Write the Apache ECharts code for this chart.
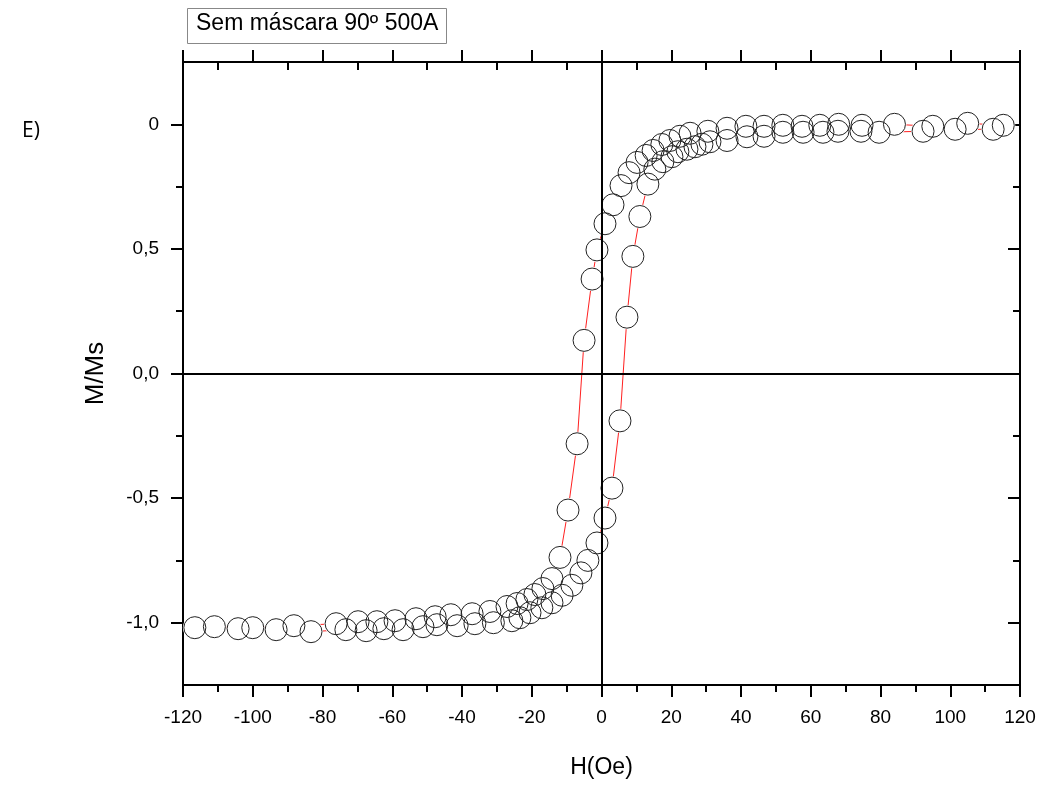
<!DOCTYPE html>
<html>
<head>
<meta charset="utf-8">
<script src="https://cdn.jsdelivr.net/npm/echarts@6/dist/echarts.min.js"></script>
<style>
html,body{margin:0;padding:0;background:#fff;}
#chart{width:1046px;height:785px;}
</style>
</head>
<body>
<div id="chart"></div>
<script>
// Descending branch (H from +120 to -120)
const descH = [115.2,105.0,95.0,84.0,74.7,68.0,62.6,57.5,52.0,46.6,41.4,36.0,30.5,25.4,22.5,19.6,17.3,14.8,12.8,10.2,7.9,5.6,3.3,1.0,-1.3,-2.7,-5.0,-7.0,-9.6,-11.9,-14.2,-16.8,-19.1,-21.4,-24.2,-27.1,-32.0,-37.1,-43.2,-47.7,-53.2,-59.2,-64.4,-69.8,-76.1,-88.2,-100.0,-111.0];
const descM = [0.996,1.004,0.992,1.0,0.996,1.0,0.996,0.992,0.996,0.992,0.992,0.984,0.972,0.964,0.952,0.935,0.919,0.895,0.875,0.847,0.806,0.754,0.677,0.601,0.496,0.379,0.133,-0.282,-0.548,-0.738,-0.823,-0.863,-0.887,-0.907,-0.923,-0.935,-0.955,-0.964,-0.968,-0.976,-0.984,-0.992,-0.996,-0.996,-1.004,-1.012,-1.02,-1.016];
// Ascending branch (H from -120 to +120)
const ascH = [-116.6,-104.2,-93.3,-83.3,-73.3,-67.5,-62.4,-56.9,-51.2,-47.2,-41.4,-36.3,-31.0,-25.7,-23.4,-20.5,-17.1,-14.2,-11.3,-8.5,-5.9,-3.9,-1.3,1.0,3.0,5.3,7.3,9.0,11.0,13.3,15.3,17.6,20.2,21.9,24.5,26.8,28.8,31.1,36.0,41.7,46.6,52.0,57.8,63.5,67.8,74.4,79.6,92.2,101.4,112.3];
const ascM = [-1.02,-1.024,-1.028,-1.036,-1.028,-1.032,-1.024,-1.028,-1.016,-1.008,-1.012,-1.004,-1.0,-0.992,-0.98,-0.96,-0.94,-0.92,-0.89,-0.85,-0.80,-0.75,-0.68,-0.58,-0.46,-0.19,0.226,0.47,0.63,0.76,0.82,0.85,0.87,0.89,0.90,0.91,0.92,0.93,0.935,0.95,0.952,0.968,0.968,0.968,0.972,0.972,0.968,0.972,0.98,0.98];
const xTicks = [-120,-100,-80,-60,-40,-20,0,20,40,60,80,100,120];
const yMajor = [-1,-0.5,0,0.5,1];
const yMinor = [-0.75,-0.25,0.25,0.75];
const yLabels = {"-1":"-1,0","-0.5":"-0,5","0":"0,0","0.5":"0,5","1":"0"};
const titleText = "Sem máscara 90º 500A";
const panelLabel = "E)";

const pts = [];
for (let i = 0; i < descH.length; i++) pts.push([descH[i], descM[i]]);
for (let i = 0; i < ascH.length; i++) pts.push([ascH[i], ascM[i]]);

const FONT = "Liberation Sans, Arial, sans-serif";
const black = "#000";
const lblStyle = {color: black, fontFamily: FONT, fontSize: 19};

const chart = echarts.init(document.getElementById('chart'), null, {renderer: 'canvas'});
const baseX = {type:'value', min:-120, max:120, interval:20, splitLine:{show:false}};
const baseY = {type:'value', min:-1.25, max:1.25, splitLine:{show:false}};

chart.setOption({
  animation: false,
  backgroundColor: '#fff',
  grid: {left:183, right:26, top:62, bottom:100, containLabel:false},
  xAxis: [
    Object.assign({}, baseX, {
      position:'bottom',
      axisLine:{show:true, onZero:false, lineStyle:{color:black, width:2}},
      axisTick:{show:true, inside:false, length:12, lineStyle:{color:black, width:2}},
      minorTick:{show:true, splitNumber:2, length:7, lineStyle:{color:black, width:2}},
      axisLabel:Object.assign({margin:23, formatter: v => xTicks.indexOf(v) >= 0 ? String(v) : ''}, lblStyle),
      name:'H(Oe)', nameLocation:'middle', nameGap:71,
      nameTextStyle:{color:black, fontFamily:FONT, fontSize:23}
    }),
    Object.assign({}, baseX, {
      position:'top',
      axisLine:{show:true, onZero:false, lineStyle:{color:black, width:2}},
      axisTick:{show:true, inside:false, length:12, lineStyle:{color:black, width:2}},
      minorTick:{show:false},
      axisLabel:{show:false}
    }),
    Object.assign({}, baseX, {
      position:'top',
      axisLine:{show:false, onZero:false},
      axisTick:{show:false, inside:true},
      minorTick:{show:true, splitNumber:2, length:8, lineStyle:{color:black, width:2}},
      axisLabel:{show:false}
    })
  ],
  yAxis: [
    Object.assign({}, baseY, {
      position:'left',
      axisLine:{show:true, onZero:false, lineStyle:{color:black, width:2}},
      axisTick:{show:true, inside:false, length:12, customValues:yMajor, lineStyle:{color:black, width:2}},
      axisLabel:Object.assign({margin:24, customValues:yMajor, formatter: v => {
        const k = String(Math.round(v*100)/100); return yLabels[k] !== undefined ? yLabels[k] : '';
      }}, lblStyle),
      name:'M/Ms', nameLocation:'middle', nameGap:74,
      nameTextStyle:{color:black, fontFamily:FONT, fontSize:26}
    }),
    Object.assign({}, baseY, {
      position:'left',
      axisLine:{show:false, onZero:false},
      axisTick:{show:true, inside:false, length:7, customValues:yMinor, lineStyle:{color:black, width:2}},
      axisLabel:{show:false}
    }),
    Object.assign({}, baseY, {
      position:'right',
      axisLine:{show:true, onZero:false, lineStyle:{color:black, width:2}},
      axisTick:{show:true, inside:true, length:12, customValues:yMajor, lineStyle:{color:black, width:2}},
      axisLabel:{show:false}
    }),
    Object.assign({}, baseY, {
      position:'right',
      axisLine:{show:false, onZero:false},
      axisTick:{show:true, inside:true, length:7, customValues:yMinor, lineStyle:{color:black, width:2}},
      axisLabel:{show:false}
    })
  ],
  graphic: [
    {type:'rect', left:187, top:8, z:10, shape:{width:259, height:35},
     style:{fill:'#fff', stroke:'#888', lineWidth:1}},
    {type:'text', left:196, top:12, z:11,
     style:{text:titleText, font:'23px "Liberation Sans", Arial, sans-serif', fill:black}},
    {type:'text', left:22, top:121, z:11,
     style:{text:panelLabel, font:'21px "Open Sans", Lato, sans-serif', fill:black}}
  ],
  series: [
    {
      type:'line', data:pts, xAxisIndex:0, yAxisIndex:0, z:1,
      showSymbol:false, symbol:'none', smooth:false,
      lineStyle:{color:'#ff2020', width:1},
      silent:true
    },
    {
      type:'scatter', data:pts, xAxisIndex:0, yAxisIndex:0, z:2,
      symbol:'circle', symbolSize:24,
      itemStyle:{color:'#fff', borderWidth:0, opacity:1},
      silent:true
    },
    {
      type:'line', data:[], xAxisIndex:0, yAxisIndex:0, z:3,
      markLine:{silent:true, symbol:['none','none'], label:{show:false},
        lineStyle:{color:black, width:2, type:'solid'},
        data:[{xAxis:0},{yAxis:0}]}
    },
    {
      type:'scatter', data:pts, xAxisIndex:0, yAxisIndex:0, z:4,
      symbol:'circle', symbolSize:22,
      itemStyle:{color:'rgba(255,255,255,0)', borderColor:'#222', borderWidth:1, opacity:1},
      silent:true
    }
  ]
});
</script>
</body>
</html>
